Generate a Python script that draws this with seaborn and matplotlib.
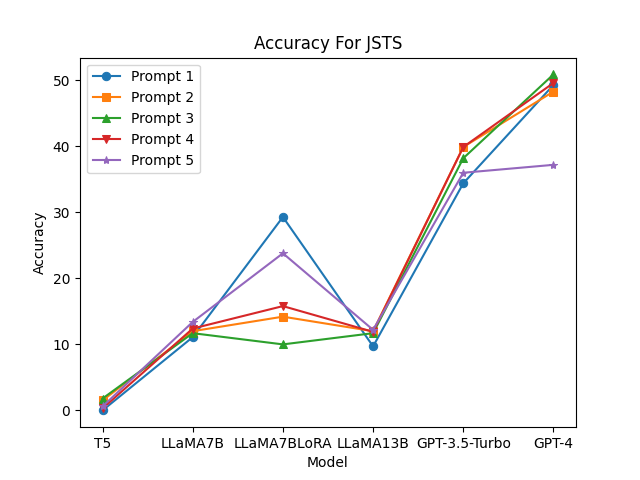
import matplotlib
matplotlib.use("Agg")
import matplotlib.pyplot as plt
import seaborn as sns
import pandas as pd

models = ["T5", "LLaMA7B", "LLaMA7BLoRA", "LLaMA13B", "GPT-3.5-Turbo", "GPT-4"]
prompt1 = [0.0, 11.1, 29.3, 9.7, 34.4, 49.3]
prompt2 = [1.5, 12.0, 14.2, 12.0, 39.9, 48.3]
prompt3 = [1.8, 11.7, 10.0, 11.7, 38.2, 50.9]
prompt4 = [0.3, 12.4, 15.8, 11.9, 39.9, 49.6]
prompt5 = [0.6, 13.4, 23.8, 12.2, 36.0, 37.2]

series = {"Prompt 1": prompt1, "Prompt 2": prompt2, "Prompt 3": prompt3,
          "Prompt 4": prompt4, "Prompt 5": prompt5}
markers = ["o", "s", "^", "v", "*"]
colors = ["#1f77b4", "#ff7f0e", "#2ca02c", "#d62728", "#9467bd"]

fig, ax = plt.subplots(figsize=(6.4, 4.8), dpi=100)
for (name, vals), m, c in zip(series.items(), markers, colors):
    df = pd.DataFrame({"Model": models, "Accuracy": vals})
    sns.lineplot(data=df, x="Model", y="Accuracy", marker=m, color=c,
                 markeredgecolor=c, markersize=6, label=name, ax=ax, sort=False)

ax.set_title("Accuracy For JSTS")
ax.set_xlabel("Model")
ax.set_ylabel("Accuracy")
ax.legend(loc="upper left")
fig.savefig("out.png")
